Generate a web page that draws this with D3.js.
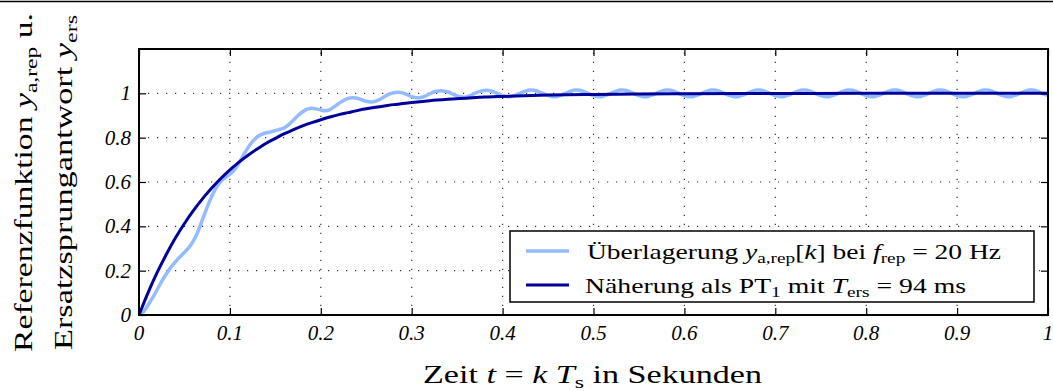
<!DOCTYPE html>
<html><head><meta charset="utf-8">
<script src="https://cdn.jsdelivr.net/npm/d3@7"></script>
<style>body{margin:0;background:#fff}svg{display:block}</style>
</head><body>
<svg id="c" width="1053" height="391"></svg>
<script>
// ---------- data ----------
const xTickValues = [0,0.1,0.2,0.3,0.4,0.5,0.6,0.7,0.8,0.9,1];
const xTickLabels = ["0","0.1","0.2","0.3","0.4","0.5","0.6","0.7","0.8","0.9","1"];
const yTickValues = [0,0.2,0.4,0.6,0.8,1];
const yTickLabels = ["0","0.2","0.4","0.6","0.8","1"];

// PT1 approximation (dark), read at these times
const pt1Time = [0,0.01,0.02,0.03,0.04,0.05,0.06,0.07,0.08,0.09,0.10,0.11,0.12,0.13,0.14,0.15,0.16,0.17,0.18,0.19,0.20,
  0.21,0.22,0.23,0.24,0.25,0.26,0.27,0.28,0.29,0.30,0.32,0.34,0.36,0.38,0.40,0.45,0.50,0.55,0.60,0.70,0.80,0.90,1.00];
const pt1Value = [0,0.101,0.192,0.273,0.347,0.413,0.472,0.525,0.573,0.616,0.655,0.690,0.721,0.749,0.775,0.797,0.818,0.836,0.853,0.868,0.881,
  0.893,0.904,0.913,0.922,0.930,0.937,0.943,0.949,0.954,0.959,0.967,0.973,0.978,0.983,0.986,0.992,0.995,0.997,0.998,0.999,1.000,1.000,1.000];

// superposition y_a,rep[k] (light), sampled every 5 ms from 0 to 1 s
const repStep = 0.005;
const repValue = [
  0.000,0.015,0.045,0.078,0.115,0.152,0.185,0.215,0.240,0.262,
  0.283,0.305,0.335,0.378,0.432,0.487,0.535,0.575,0.603,0.620,
  0.635,0.655,0.685,0.722,0.755,0.783,0.803,0.815,0.822,0.826,
  0.832,0.838,0.845,0.860,0.880,0.900,0.917,0.929,0.933,0.930,
  0.925,0.922,0.927,0.940,0.955,0.968,0.977,0.980,0.978,0.971,
  0.964,0.961,0.964,0.973,0.985,0.996,1.003,1.005,1.002,0.994,
  0.985,0.980,0.981,0.988,0.998,1.007,1.011,1.011,1.006,0.997,
  0.988,0.983,0.984,0.991,1.001,1.009,1.013,1.013,1.007,0.998,
  0.990,0.985,0.986,0.993,1.002,1.010,1.015,1.014,1.007,0.998,
  0.990,0.985,0.986,0.993,1.002,1.010,1.015,1.014,1.007,0.998,
  0.990,0.985,0.986,0.993,1.002,1.010,1.015,1.014,1.007,0.998,
  0.990,0.985,0.986,0.993,1.002,1.010,1.015,1.014,1.007,0.998,
  0.990,0.985,0.986,0.993,1.002,1.010,1.015,1.014,1.007,0.998,
  0.990,0.985,0.986,0.993,1.002,1.010,1.015,1.014,1.007,0.998,
  0.990,0.985,0.986,0.993,1.002,1.010,1.015,1.014,1.007,0.998,
  0.990,0.985,0.986,0.993,1.002,1.010,1.015,1.014,1.007,0.998,
  0.990,0.985,0.986,0.993,1.002,1.010,1.015,1.014,1.007,0.998,
  0.990,0.985,0.986,0.993,1.002,1.010,1.015,1.014,1.007,0.998,
  0.990,0.985,0.986,0.993,1.002,1.010,1.015,1.014,1.007,0.998,
  0.990,0.985,0.986,0.993,1.002,1.010,1.015,1.014,1.007,0.998,
  0.990];

// ---------- layout ----------
const svg = d3.select("#c");
const L = 139, R = 1048, T = 49, B = 315;
const x = d3.scaleLinear().domain([0,1]).range([L,R]);
const y = d3.scaleLinear().domain([0,1.2]).range([B,T]);
const SERIF = "'Liberation Serif','Times New Roman',serif";
const LIGHT = "#94bbff", DARK = "#00009a";

// top rule
svg.append("line").attr("x1",0).attr("x2",1053).attr("y1",1.5).attr("y2",1.5)
  .attr("stroke","#000").attr("stroke-width",1.5);

// grid
const grid = svg.append("g").attr("stroke","#333").attr("stroke-width",1.2)
  .attr("stroke-dasharray","1.2,7.8");
xTickValues.slice(1,-1).forEach(v=>{
  grid.append("line").attr("x1",x(v)).attr("x2",x(v)).attr("y1",B).attr("y2",T);
});
yTickValues.slice(1).forEach(v=>{
  grid.append("line").attr("x1",L).attr("x2",R).attr("y1",y(v)).attr("y2",y(v));
});

// curves
svg.append("clipPath").attr("id","pc").append("rect")
  .attr("x",L).attr("y",T).attr("width",R-L).attr("height",B-T);
const repData = repValue.map((v,i)=>[i*repStep, v]);
const pt1Data = pt1Time.map((t,i)=>[t, pt1Value[i]]);
svg.append("path").datum(repData).attr("clip-path","url(#pc)")
  .attr("d", d3.line().x(d=>x(d[0])).y(d=>y(d[1])).curve(d3.curveCatmullRom.alpha(0.5)))
  .attr("fill","none").attr("stroke",LIGHT).attr("stroke-width",3.5);
svg.append("path").datum(pt1Data).attr("clip-path","url(#pc)")
  .attr("d", d3.line().x(d=>x(d[0])).y(d=>y(d[1])).curve(d3.curveMonotoneX))
  .attr("fill","none").attr("stroke",DARK).attr("stroke-width",3);

// axes (ticks inward on all four sides)
const tl = 7;
const axB = svg.append("g").attr("transform",`translate(0,${B})`)
  .call(d3.axisBottom(x).tickValues(xTickValues).tickSize(-tl).tickFormat(""));
const axT = svg.append("g").attr("transform",`translate(0,${T})`)
  .call(d3.axisTop(x).tickValues(xTickValues).tickSize(-tl).tickFormat(""));
const axL = svg.append("g").attr("transform",`translate(${L},0)`)
  .call(d3.axisLeft(y).tickValues(yTickValues).tickSize(-tl).tickFormat(""));
const axR = svg.append("g").attr("transform",`translate(${R},0)`)
  .call(d3.axisRight(y).tickValues(yTickValues).tickSize(-tl).tickFormat(""));
[axB,axT,axL,axR].forEach(a=>{
  a.select(".domain").remove();
  a.selectAll(".tick line").attr("stroke","#000").attr("stroke-width",1.2);
});
svg.append("rect").attr("x",L).attr("y",T).attr("width",R-L).attr("height",B-T)
  .attr("fill","none").attr("stroke","#000").attr("stroke-width",2);

// tick labels
svg.append("g").selectAll("text").data(xTickValues).join("text")
  .attr("x",d=>x(d)).attr("y",340).attr("text-anchor","middle")
  .attr("font-family",SERIF).attr("font-style","italic").attr("font-size",21)
  .text((d,i)=>xTickLabels[i]);
svg.append("g").selectAll("text").data(yTickValues).join("text")
  .attr("x",131).attr("y",d=>y(d)+7).attr("text-anchor","end")
  .attr("font-family",SERIF).attr("font-style","italic").attr("font-size",21)
  .text((d,i)=>yTickLabels[i]);

// rich text helper
function rich(sel, parts, size, len){
  parts.forEach(p=>{
    const ts = sel.append("tspan").text(p.t);
    if(p.it) ts.attr("font-style","italic");
    if(p.sub){ ts.attr("font-size",size*0.7).attr("baseline-shift","-25%"); }
  });
  if(len) sel.attr("textLength",len).attr("lengthAdjust","spacingAndGlyphs");
  return sel;
}

// axis titles
rich(svg.append("text").attr("x",423).attr("y",383)
  .attr("font-family",SERIF).attr("font-size",25),
  [{t:"Zeit "},{t:"t",it:1},{t:" = "},{t:"k T",it:1},{t:"s",sub:1},{t:" in Sekunden"}],25,339);
rich(svg.append("text").attr("transform","translate(32,352) rotate(-90)")
  .attr("font-family",SERIF).attr("font-size",25),
  [{t:"Referenzfunktion "},{t:"y",it:1},{t:"a,rep",sub:1},{t:" u."}],25,339);
rich(svg.append("text").attr("transform","translate(72,350) rotate(-90)")
  .attr("font-family",SERIF).attr("font-size",25),
  [{t:"Ersatzsprungantwort "},{t:"y",it:1},{t:"ers",sub:1}],25,335);

// legend
const lg = svg.append("g");
lg.append("rect").attr("x",510).attr("y",231).attr("width",524).attr("height",71)
  .attr("fill","#fff").attr("stroke","#000").attr("stroke-width",1.5);
lg.append("line").attr("x1",526).attr("x2",569).attr("y1",251).attr("y2",251)
  .attr("stroke",LIGHT).attr("stroke-width",3.5);
lg.append("line").attr("x1",526).attr("x2",569).attr("y1",285).attr("y2",285)
  .attr("stroke",DARK).attr("stroke-width",3);
rich(lg.append("text").attr("x",587).attr("y",259).attr("font-family",SERIF).attr("font-size",22),
  [{t:"Überlagerung "},{t:"y",it:1},{t:"a,rep",sub:1},{t:"["},{t:"k",it:1},{t:"] bei "},{t:"f",it:1},{t:"rep",sub:1},{t:" = 20 Hz"}],22,414);
rich(lg.append("text").attr("x",585).attr("y",293).attr("font-family",SERIF).attr("font-size",22),
  [{t:"Näherung als PT"},{t:"1",sub:1},{t:" mit "},{t:"T",it:1},{t:"ers",sub:1},{t:" = 94 ms"}],22,381);
</script>
</body></html>
